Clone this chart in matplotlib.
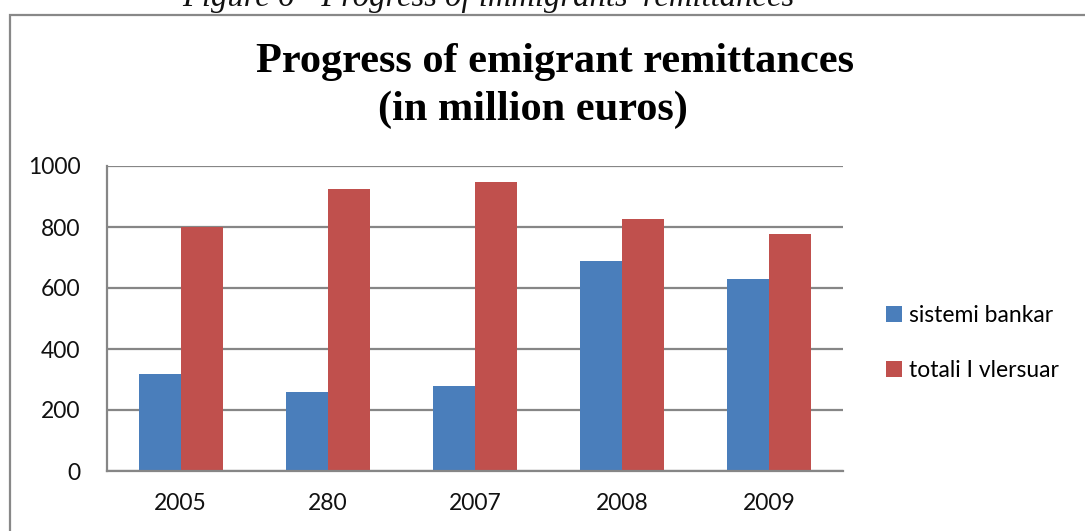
import matplotlib.pyplot as plt
import matplotlib.patches as patches
import numpy as np

years = ["2005", "280", "2007", "2008", "2009"]
banking = [317, 258, 279, 687, 628]
estimated = [800, 926, 948, 825, 776]
series_names = ["sistemi bankar", "totali I vlersuar"]

fig = plt.figure(figsize=(10.85, 5.31), dpi=100)

# outer chart frame, runs off the right and bottom of the page
frame = patches.Rectangle((10 / 1085, -0.05), 1.2, 1 - 15 / 531 + 0.05,
                          transform=fig.transFigure, fill=False,
                          edgecolor="#888888", linewidth=1.6)
fig.patches.append(frame)

# caption from the page above, cut off by the crop
fig.text(488 / 1085, 1 - 6 / 531, "Figure 6 - Progress of immigrants' remittances",
         family="Liberation Serif", style="italic", fontsize=23.5,
         ha="center", va="baseline", color="#111111")

fig.text(555 / 1085, 1 - 62 / 531, "Progress of emigrant remittances",
         family="Liberation Serif", weight="bold", fontsize=30.5,
         ha="center", va="center")
fig.text(533 / 1085, 1 - 110 / 531, "(in million euros)",
         family="Liberation Serif", weight="bold", fontsize=30.5,
         ha="center", va="center")

ax = fig.add_axes([107 / 1085, 1 - 471 / 531, (843 - 107) / 1085, (471 - 166) / 531])

x = np.arange(len(years))
w = 1 / 3.5
ax.bar(x - w / 2, banking, w, color="#4a7ebb", label=series_names[0])
ax.bar(x + w / 2, estimated, w, color="#c0504d", label=series_names[1])

ax.set_xlim(-0.5, len(years) - 0.5)
ax.set_ylim(0, 1000)
ax.set_yticks(range(0, 1001, 200))
ax.set_xticks(x)
ax.set_xticklabels(years)
ax.yaxis.grid(True, color="#868686", linewidth=1.6)
ax.set_axisbelow(True)
for side in ["top", "right"]:
    ax.spines[side].set_visible(False)
for side in ["left", "bottom"]:
    ax.spines[side].set_color("#868686")
    ax.spines[side].set_linewidth(1.6)
ax.tick_params(length=0, labelsize=16.5, colors="#111111")
ax.tick_params(axis="x", pad=16)
ax.tick_params(axis="y", pad=19)
for lab in ax.get_xticklabels() + ax.get_yticklabels():
    lab.set_family("Lato")

ax.legend(loc="center left", bbox_to_anchor=(1.03, 0.42), frameon=False,
          prop={"family": "Lato", "size": 16.5}, handlelength=0.7,
          handleheight=0.7, handletextpad=0.3, labelspacing=1.5)

fig.savefig("out.png", dpi=100)
